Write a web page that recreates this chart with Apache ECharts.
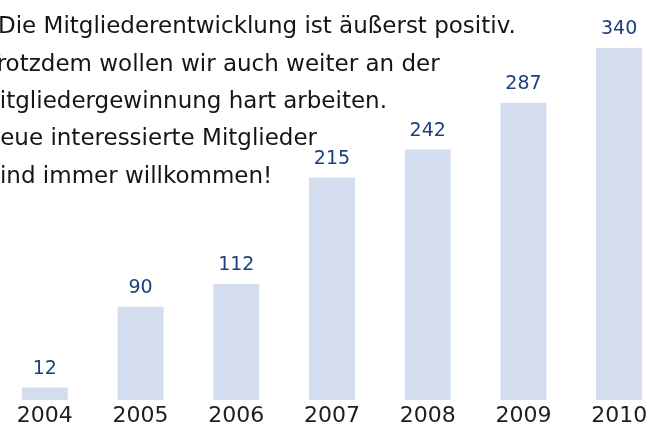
<!DOCTYPE html>
<html>
<head>
<meta charset="utf-8">
<script src="https://cdn.jsdelivr.net/npm/echarts@6/dist/echarts.min.js"></script>
<style>
  html, body { margin: 0; padding: 0; background: #fff; overflow: hidden; }
  /* plot spills past both window edges, like the reference */
  #chart { position: relative; left: -3px; width: 670px; height: 433px; }
</style>
</head>
<body>
<div id="chart"></div>
<script>
const years = ['2004', '2005', '2006', '2007', '2008', '2009', '2010'];
const members = [12, 90, 112, 215, 242, 287, 340];

const introLines = [
  'Die Mitgliederentwicklung ist äußerst positiv.',
  'Trotzdem wollen wir auch weiter an der',
  'Mitgliedergewinnung hart arbeiten.',
  'Neue interessierte Mitglieder',
  'sind immer willkommen!',
];
const introX = [1, -11, -17, -14, -9];

const chart = echarts.init(document.getElementById('chart'));

const option = {
  animation: false,
  grid: {
    left: 0,
    right: 0,
    top: 48,
    bottom: 33,
  },
  xAxis: {
    type: 'category',
    data: years,
    axisLine: { show: false },
    axisTick: { show: false },
    axisLabel: {
      color: '#1e1e1e',
      fontFamily: 'DejaVu Sans',
      fontSize: 22,
      margin: 5,
      verticalAlign: 'top',
    },
  },
  yAxis: {
    type: 'value',
    min: 0,
    max: 340,
    show: false,
    splitLine: { show: false },
  },
  series: [
    {
      type: 'bar',
      data: members,
      barWidth: 46,
      itemStyle: { color: '#d3ddee' },
      label: {
        show: true,
        position: 'top',
        distance: 9,
        color: '#1c3f7d',
        fontFamily: 'DejaVu Sans',
        fontSize: 19,
      },
    },
  ],
  graphic: introLines.map((line, i) => ({
    type: 'text',
    left: introX[i],
    top: 16 + i * 37.3,
    style: {
      text: line,
      fill: '#151515',
      font: '23px "DejaVu Sans"',
    },
  })),
};

chart.setOption(option);
</script>
</body>
</html>
